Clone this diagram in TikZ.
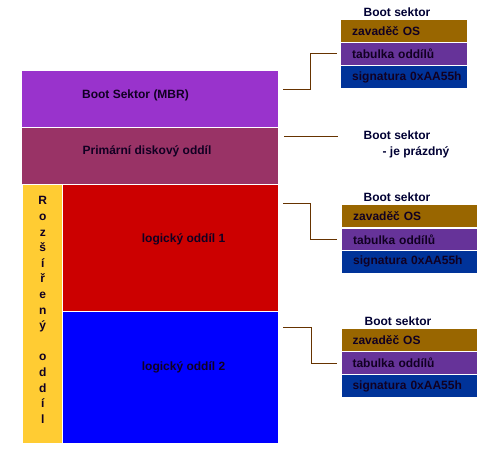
\documentclass[tikz,border=0pt]{standalone}
\usepackage{fontspec}
\setmainfont{Liberation Sans}
\definecolor{cMBR}{HTML}{9933CC}
\definecolor{cPrim}{HTML}{993366}
\definecolor{cExt}{HTML}{FFCC33}
\definecolor{cRed}{HTML}{CC0000}
\definecolor{cBlue}{HTML}{0000FF}
\definecolor{cBrown}{HTML}{996600}
\definecolor{cViol}{HTML}{663399}
\definecolor{cNavy}{HTML}{003399}
\definecolor{cLine}{HTML}{663300}
\definecolor{cTxt}{HTML}{110022}
\definecolor{cHead}{HTML}{000033}
\begin{document}
\begin{tikzpicture}[x=1pt,y=-1pt,
  every node/.style={font=\fontsize{12}{14}\selectfont\bfseries, text=cTxt},
  part/.style={fill=#1, draw=none, inner sep=0pt, anchor=north west},
  sect/.style={fill=#1, draw=none, anchor=north west, inner xsep=11pt, inner ysep=0pt,
    minimum height=21.7pt, align=left},
  head/.style={text=cHead},
  conn/.style={draw=cLine, line width=1pt}]
\useasboundingbox (0,0) rectangle (498,450);
% main disk layout
\node[part=cMBR, minimum width=256pt, minimum height=56pt] (mbr) at (22,71) {};
\node[part=cPrim, minimum width=256pt, minimum height=55.5pt] (prim) at (22,128.2) {};
\node[part=cExt, minimum width=38.7pt, minimum height=258pt] (ext) at (23,184.5) {};
\node[part=cRed, minimum width=215pt, minimum height=126pt] (log1) at (63,184.7) {};
\node[part=cBlue, minimum width=215pt, minimum height=130.7pt] (log2) at (63,312) {};
\node (tmbr) at (135.5,95) {Boot Sektor (MBR)};
\node (tprim) at (147,151.5) {Primární diskový oddíl};
\node[anchor=west, inner xsep=0pt] (tlog1) at (141.7,239) {logický oddíl 1};
\node[anchor=west, inner xsep=0pt] (tlog2) at (141.7,367.5) {logický oddíl 2};
\node[align=center, font=\fontsize{12}{15.6}\selectfont\bfseries] (text) at (42.8,310)
  {R\\o\\z\\š\\í\\ř\\e\\n\\ý\\\strut\\o\\d\\d\\í\\l};
% boot sector group 1
\node[head] (h1) at (397,12.5) {Boot sektor};
\node[sect=cBrown, text width=103.7pt] (z1) at (341,20) {zavaděč~OS};
\node[sect=cViol, text width=103.7pt] (t1) at (341,42.7) {tabulka~oddílů};
\node[sect=cNavy, text width=103.7pt] (s1) at (341,65.9) {signatura~0xAA55h};
% primary boot sector
\node[head] (h2) at (397,135) {Boot sektor};
\node[head] (h2b) at (416,152.5) {- je prázdný};
% group 2
\node[head] (h3) at (397,197.5) {Boot sektor};
\node[sect=cBrown, text width=112.7pt] (z2) at (342,205) {zavaděč~OS};
\node[sect=cViol, text width=112.7pt] (t2) at (342,228.3) {tabulka~oddílů};
\node[sect=cNavy, text width=112.7pt] (s2) at (342,250.7) {signatura~0xAA55h};
% group 3
\node[head] (h4) at (398,321.5) {Boot sektor};
\node[sect=cBrown, text width=113.4pt] (z3) at (341.3,329) {zavaděč~OS};
\node[sect=cViol, text width=113.4pt] (t3) at (341.3,352) {tabulka~oddílů};
\node[sect=cNavy, text width=113.4pt] (s3) at (341.3,375) {signatura~0xAA55h};
% connectors
\coordinate (a1) at (283,89);
\coordinate (b1) at ([xshift=-3.7pt]t1.west);
\draw[conn] (a1) -- (310.7,89) |- (b1);
\coordinate (a2) at (284,136);
\coordinate (b2) at (338.3,136);
\draw[conn] (a2) -- (b2);
\coordinate (a3) at (283,203.3);
\coordinate (b3) at ([xshift=-4.7pt]t2.west);
\draw[conn] (a3) -- (310.7,203.3) |- (b3);
\coordinate (a4) at (283,327.3);
\coordinate (b4) at ([xshift=-4pt]t3.west);
\draw[conn] (a4) -- (311.7,327.3) |- (b4);
\end{tikzpicture}
\end{document}
